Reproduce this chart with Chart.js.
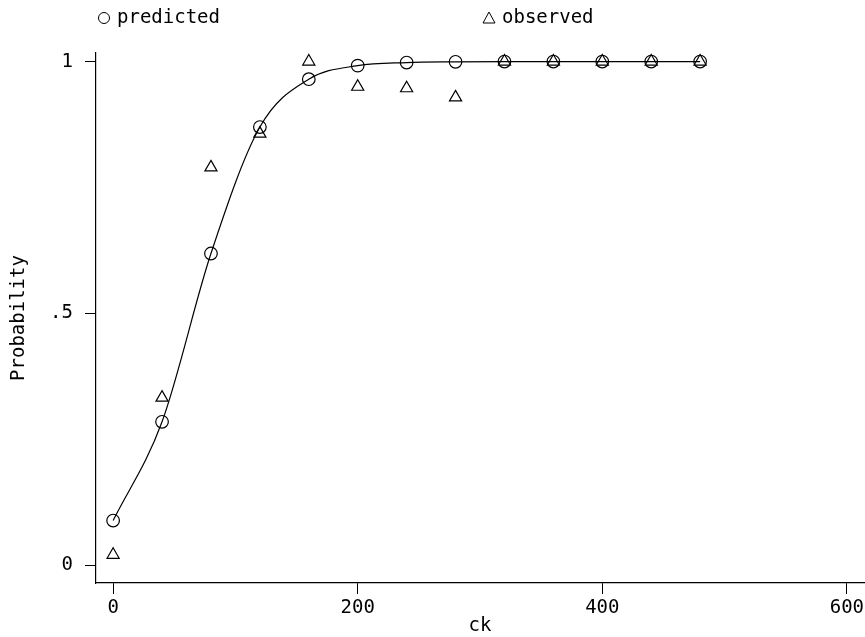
<!DOCTYPE html>
<html>
<head>
<meta charset="utf-8">
<script src="https://cdn.jsdelivr.net/npm/chart.js@4/dist/chart.umd.min.js"></script>
<style>
html,body{margin:0;padding:0;background:#fff;}
#wrap{width:865px;height:637px;}
</style>
</head>
<body>
<div id="wrap"><canvas id="c" width="865" height="637"></canvas></div>
<script>
const ck = [0, 40, 80, 120, 160, 200, 240, 280, 320, 360, 400, 440, 480];
const predicted = [0.089, 0.285, 0.619, 0.870, 0.965, 0.992, 0.998, 0.9995, 1.0, 1.0, 1.0, 1.0, 1.0];
const observed = [0.021, 0.333, 0.790, 0.857, 1.0, 0.950, 0.947, 0.929, 1.0, 1.0, 1.0, 1.0, 1.0];
const xTicks = [0, 200, 400, 600];
const yTicks = [0, 0.5, 1];
const yTickLabels = ['0', '.5', '1'];
const legendLabels = ['predicted', 'observed'];

const FONT = '"DejaVu Sans Mono", "Liberation Mono", monospace';
const FS = 19;
const pts = (ys) => ck.map((x, i) => ({x: x, y: ys[i]}));

const legendPlugin = {
  id: 'stataLegend',
  afterDraw(chart) {
    const ctx = chart.ctx;
    ctx.save();
    ctx.strokeStyle = '#000';
    ctx.fillStyle = '#000';
    ctx.lineWidth = 1;
    ctx.font = FS + 'px ' + FONT;
    ctx.textBaseline = 'middle';
    ctx.textAlign = 'left';
    ctx.beginPath();
    ctx.arc(104, 18, 5.5, 0, Math.PI * 2);
    ctx.stroke();
    ctx.fillText(legendLabels[0], 117, 18);
    ctx.beginPath();
    ctx.moveTo(489, 12);
    ctx.lineTo(495, 23);
    ctx.lineTo(483, 23);
    ctx.closePath();
    ctx.stroke();
    ctx.fillText(legendLabels[1], 502, 18);
    ctx.restore();
  }
};

new Chart(document.getElementById('c'), {
  type: 'scatter',
  data: {
    datasets: [
      {
        label: legendLabels[0],
        data: pts(predicted),
        showLine: true,
        cubicInterpolationMode: 'monotone',
        borderColor: '#000',
        borderWidth: 1.2,
        backgroundColor: 'rgba(0,0,0,0)',
        pointStyle: 'circle',
        pointRadius: 6.3,
        pointBorderWidth: 1.2,
        pointBorderColor: '#000',
        pointBackgroundColor: 'rgba(0,0,0,0)'
      },
      {
        label: legendLabels[1],
        data: pts(observed),
        showLine: false,
        borderColor: '#000',
        backgroundColor: 'rgba(0,0,0,0)',
        pointStyle: 'triangle',
        pointRadius: 7,
        pointBorderWidth: 1.2,
        pointBorderColor: '#000',
        pointBackgroundColor: 'rgba(0,0,0,0)'
      }
    ]
  },
  options: {
    responsive: false,
    animation: false,
    devicePixelRatio: 1,
    layout: {autoPadding: false, padding: {top: 53, right: 1, left: 0, bottom: 0}},
    plugins: {legend: {display: false}, tooltip: {enabled: false}},
    scales: {
      x: {
        type: 'linear',
        min: -14,
        max: 614,
        afterBuildTicks: (s) => { s.ticks = xTicks.map(v => ({value: v})); },
        afterFit: (s) => { s.height = 54; s.paddingLeft = 0; s.paddingRight = 0; },
        border: {display: true, color: '#000', width: 1.2},
        grid: {display: true, drawOnChartArea: false, drawTicks: true, tickLength: 11, color: '#000', lineWidth: 1},
        ticks: {color: '#000', font: {family: FONT, size: FS}, padding: 3, maxRotation: 0},
        title: {display: true, text: 'ck', color: '#000', font: {family: FONT, size: FS}, padding: {top: 0, bottom: 0}}
      },
      y: {
        type: 'linear',
        min: -0.035,
        max: 1.017,
        afterBuildTicks: (s) => { s.ticks = yTicks.map(v => ({value: v})); },
        afterFit: (s) => { s.width = 96; s.paddingTop = 0; s.paddingBottom = 0; },
        border: {display: true, color: '#000', width: 1.2},
        grid: {display: true, drawOnChartArea: false, drawTicks: true, tickLength: 11, color: '#000', lineWidth: 1},
        ticks: {
          color: '#000', font: {family: FONT, size: FS}, padding: 12,
          callback: (v) => { const i = yTicks.indexOf(v); return i >= 0 ? yTickLabels[i] : ''; }
        },
        title: {display: true, text: 'Probability', color: '#000', font: {family: FONT, size: FS}, padding: {top: 8, bottom: 0}}
      }
    }
  },
  plugins: [legendPlugin]
});
</script>
</body>
</html>
